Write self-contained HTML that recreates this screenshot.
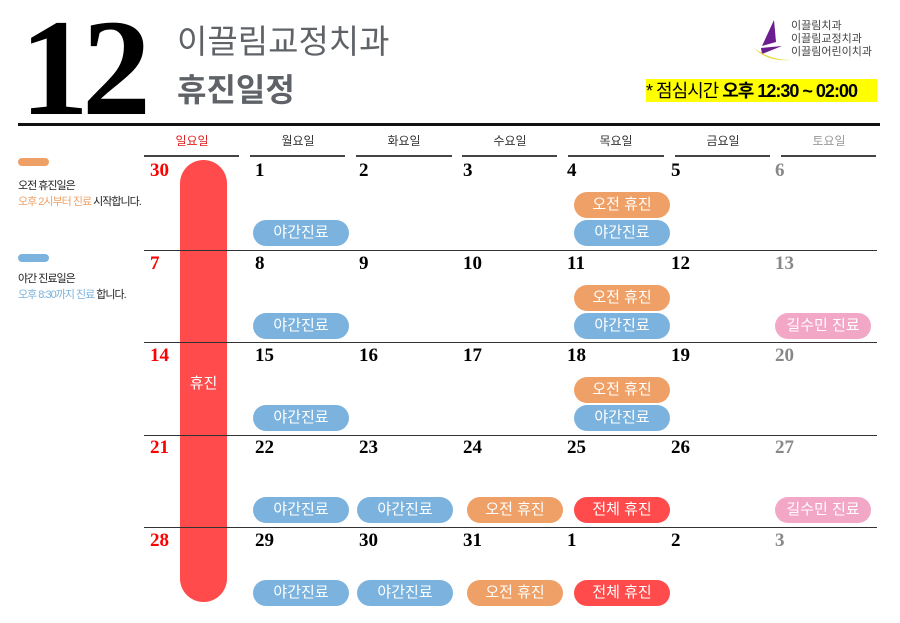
<!DOCTYPE html>
<html><head><meta charset="utf-8"><style>
body{margin:0;width:900px;height:623px;background:#fff;position:relative;overflow:hidden;font-family:"Liberation Sans","Noto Sans CJK KR",sans-serif}
.a{position:absolute}
.n{position:absolute;font-family:"Liberation Serif",serif;font-weight:bold;font-size:19px;line-height:20px}
.p{position:absolute;width:96px;height:26px;border-radius:13px;color:#fff;font-size:15px;line-height:26px;text-align:center}
.o{background:#efa066}.b{background:#7bb3de}.r{background:#ff4b4b}.k{background:#f3a7c7}
.hl{position:absolute;height:1.5px;background:#444;top:155px}
.rl{position:absolute;left:144px;width:733px;height:1.3px;background:#333}
.dh{position:absolute;top:132px;font-size:12px;width:96px;text-align:center;color:#333}
</style></head><body>
<div class="a" style="left:20px;top:-1px;font-family:'Liberation Serif',serif;font-weight:bold;font-size:138px;line-height:138px;letter-spacing:-7px;color:#000">12</div>
<div class="a" style="left:177px;top:22px;font-size:33px;color:#5f6368;line-height:40px">이끌림교정치과</div>
<div class="a" style="left:177px;top:70px;font-size:32px;font-weight:bold;color:#5f6368;line-height:40px">휴진일정</div>
<svg class="a" style="left:752px;top:18px" width="40" height="46"><path d="M22 2 L10 28 L24 24 Z" fill="#6b1e8f"/><path d="M9 30 L30 28 L10 36Z" fill="#6b1e8f"/><path d="M2 30 Q15 44 38 42 Q18 42 2 30Z" fill="#e8d83a"/></svg>
<div class="a" style="left:791px;top:20px;font-size:11px;line-height:13px;color:#444">이끌림치과<br>이끌림교정치과<br>이끌림어린이치과</div>
<div class="a" style="left:646px;top:79px;width:231px;height:23px;background:#ffff00;font-size:18px;line-height:24px;letter-spacing:-1px;color:#000">* 점심시간 <b>오후 12:30 ~ 02:00</b></div>
<div class="a" style="left:18px;top:123px;width:862px;height:3px;background:#111"></div>
<div class="dh" style="left:144px;color:#e02020">일요일</div><div class="dh" style="left:250px">월요일</div><div class="dh" style="left:356px">화요일</div><div class="dh" style="left:462px">수요일</div><div class="dh" style="left:568px">목요일</div><div class="dh" style="left:675px">금요일</div><div class="dh" style="left:781px;color:#999">토요일</div>
<div class="hl" style="left:144px;width:95px"></div><div class="hl" style="left:250px;width:95px"></div><div class="hl" style="left:356px;width:96px"></div><div class="hl" style="left:462px;width:95px"></div><div class="hl" style="left:568px;width:96px"></div><div class="hl" style="left:675px;width:95px"></div><div class="hl" style="left:781px;width:95px"></div>
<div class="a" style="left:18px;top:158px;width:31px;height:8px;border-radius:4px;background:#efa066"></div>
<div class="a" style="left:18px;top:178px;font-size:11px;line-height:16px;letter-spacing:-1px;color:#222">오전 휴진일은<br><span style="color:#efa066">오후 2시부터 진료</span> 시작합니다.</div>
<div class="a" style="left:18px;top:254px;width:31px;height:8px;border-radius:4px;background:#7bb3de"></div>
<div class="a" style="left:18px;top:271px;font-size:11px;line-height:16px;letter-spacing:-1px;color:#222">야간 진료일은<br><span style="color:#7bb3de">오후 8:30까지 진료</span> 합니다.</div>
<div class="a r" style="left:180px;top:160px;width:47px;height:442px;border-radius:24px"></div>
<div class="a" style="left:180px;top:372px;width:47px;text-align:center;color:#fff;font-size:15px">휴진</div>
<div class="rl" style="top:250px"></div><div class="rl" style="top:342px"></div><div class="rl" style="top:435px"></div><div class="rl" style="top:527px"></div>
<div class="n" style="left:150px;top:161px;color:#f00">30</div><div class="n" style="left:255px;top:161px">1</div><div class="n" style="left:359px;top:161px">2</div><div class="n" style="left:463px;top:161px">3</div><div class="n" style="left:567px;top:161px">4</div><div class="n" style="left:671px;top:161px">5</div><div class="n" style="left:775px;top:161px;color:#888">6</div>
<div class="n" style="left:150px;top:254px;color:#f00">7</div><div class="n" style="left:255px;top:254px">8</div><div class="n" style="left:359px;top:254px">9</div><div class="n" style="left:463px;top:254px">10</div><div class="n" style="left:567px;top:254px">11</div><div class="n" style="left:671px;top:254px">12</div><div class="n" style="left:775px;top:254px;color:#888">13</div>
<div class="n" style="left:150px;top:346px;color:#f00">14</div><div class="n" style="left:255px;top:346px">15</div><div class="n" style="left:359px;top:346px">16</div><div class="n" style="left:463px;top:346px">17</div><div class="n" style="left:567px;top:346px">18</div><div class="n" style="left:671px;top:346px">19</div><div class="n" style="left:775px;top:346px;color:#888">20</div>
<div class="n" style="left:150px;top:438px;color:#f00">21</div><div class="n" style="left:255px;top:438px">22</div><div class="n" style="left:359px;top:438px">23</div><div class="n" style="left:463px;top:438px">24</div><div class="n" style="left:567px;top:438px">25</div><div class="n" style="left:671px;top:438px">26</div><div class="n" style="left:775px;top:438px;color:#888">27</div>
<div class="n" style="left:150px;top:531px;color:#f00">28</div><div class="n" style="left:255px;top:531px">29</div><div class="n" style="left:359px;top:531px">30</div><div class="n" style="left:463px;top:531px">31</div><div class="n" style="left:567px;top:531px">1</div><div class="n" style="left:671px;top:531px">2</div><div class="n" style="left:775px;top:531px;color:#888">3</div>
<div class="p b" style="left:253px;top:220px">야간진료</div><div class="p o" style="left:574px;top:192px">오전 휴진</div><div class="p b" style="left:574px;top:220px">야간진료</div>
<div class="p b" style="left:253px;top:313px">야간진료</div><div class="p o" style="left:574px;top:285px">오전 휴진</div><div class="p b" style="left:574px;top:313px">야간진료</div><div class="p k" style="left:775px;top:313px">길수민 진료</div>
<div class="p b" style="left:253px;top:405px">야간진료</div><div class="p o" style="left:574px;top:377px">오전 휴진</div><div class="p b" style="left:574px;top:405px">야간진료</div>
<div class="p b" style="left:253px;top:497px">야간진료</div><div class="p b" style="left:357px;top:497px">야간진료</div><div class="p o" style="left:467px;top:497px">오전 휴진</div><div class="p r" style="left:574px;top:497px">전체 휴진</div><div class="p k" style="left:775px;top:497px">길수민 진료</div>
<div class="p b" style="left:253px;top:580px">야간진료</div><div class="p b" style="left:357px;top:580px">야간진료</div><div class="p o" style="left:467px;top:580px">오전 휴진</div><div class="p r" style="left:574px;top:580px">전체 휴진</div>
</body></html>
